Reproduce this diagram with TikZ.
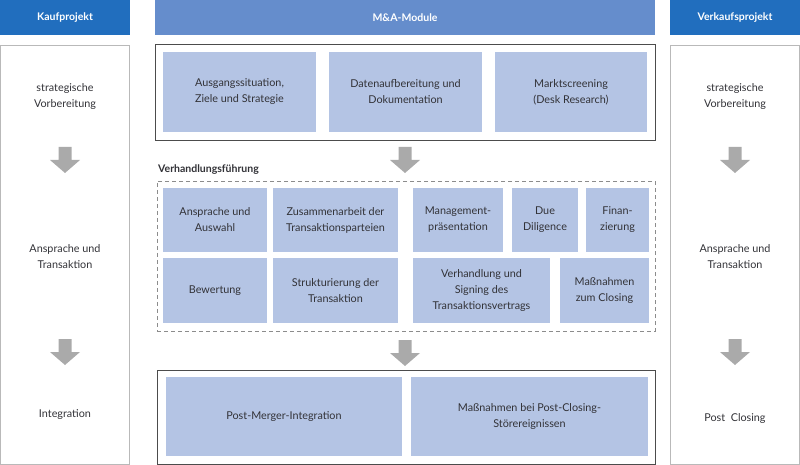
\documentclass[tikz,border=0pt]{standalone}
\usepackage{fontspec}
\setmainfont{Lato}
\usepackage{tikz}

\definecolor{kaufblau}{RGB}{33,110,190}
\definecolor{modulblau}{RGB}{101,141,204}
\definecolor{feldblau}{RGB}{180,196,228}
\definecolor{pfeilgrau}{RGB}{170,170,170}
\definecolor{textgrau}{RGB}{50,50,55}
\definecolor{randgrau}{RGB}{185,185,185}

% block arrow: x of centre, y of top
\newcommand{\pfeil}[2]{%
  \fill [pfeilgrau] (#1-6.5,#2) -- (#1+6.5,#2) -- (#1+6.5,#2-13) -- (#1+15,#2-13)
    -- (#1,#2-26) -- (#1-15,#2-13) -- (#1-6.5,#2-13) -- cycle;}

\begin{document}
\begin{tikzpicture}[x=1pt,y=1pt]
      \tikzstyle{every node}+=[inner sep=0pt, font=\fontsize{10.8}{16}\selectfont, text=textgrau]
      \tikzstyle{kopf}=[fill=kaufblau, text=white, font=\fontsize{10.5}{12}\selectfont\bfseries, minimum height=35]
      \tikzstyle{spalte}=[draw=randgrau, line width=0.8, minimum width=129, minimum height=419]
      \tikzstyle{feld}=[fill=feldblau, align=center]
      \tikzstyle{rahmen}=[draw=black!70, line width=0.8]
      \useasboundingbox (0,0) rectangle (800,-465);
      % headers
      \node [kopf, minimum width=130] (kauf) at (65,-17.5) {Kaufprojekt};
      \node [kopf, fill=modulblau, minimum width=500] (modul) at (405,-17.5) {M\&A-Module};
      \node [kopf, minimum width=130] (verkauf) at (735,-17.5) {Verkaufsprojekt};
      % side columns
      \node [spalte] (kaufspalte) at (65,-254.75) {};
      \node [spalte] (verkaufspalte) at (735,-254.75) {};
      \node [align=center] (kauf1) at (65,-97) {strategische\\Vorbereitung};
      \node [align=center] (kauf2) at (65,-257) {Ansprache und\\Transaktion};
      \node (kauf3) at (65,-415) {Integration};
      \node [align=center] (verkauf1) at (735,-97) {strategische\\Vorbereitung};
      \node [align=center] (verkauf2) at (735,-257) {Ansprache und\\Transaktion};
      \node (verkauf3) at (735,-419) {Post\ \ Closing};
      \pfeil{65}{-147}
      \pfeil{65}{-339}
      \pfeil{735}{-147}
      \pfeil{735}{-339}
      % first module group
      \node [rahmen, minimum width=500, minimum height=96] (start) at (405,-92) {};
      \node [feld, minimum width=153, minimum height=80] (ausgang) at (239.5,-92) {Ausgangssituation,\\Ziele und Strategie};
      \node [feld, minimum width=153, minimum height=80] (daten) at (405.5,-92) {Datenaufbereitung und\\Dokumentation};
      \node [feld, minimum width=152, minimum height=80] (markt) at (571,-92) {Marktscreening\\(Desk Research)};
      \pfeil{405}{-147}
      % negotiation
      \node [anchor=west, font=\fontsize{10.5}{12}\selectfont\bfseries] (verhandlung) at (158,-170) {Verhandlungsführung};
      \node [draw=black!45, dash pattern=on 4pt off 3pt, line width=0.8, minimum width=498, minimum height=150] (mitte) at (406,-256) {};
      \node [feld, minimum width=104, minimum height=64] (ansprache) at (215,-220) {Ansprache und\\Auswahl};
      \node [feld, minimum width=125, minimum height=64] (zusammen) at (335.5,-220) {Zusammenarbeit der\\Transaktionsparteien};
      \node [feld, minimum width=90, minimum height=64] (management) at (458,-220) {Management-\\präsentation};
      \node [feld, minimum width=66, minimum height=64] (due) at (545,-220) {Due\\Diligence};
      \node [feld, minimum width=63, minimum height=64] (finanz) at (617.5,-220) {Finan-\\zierung};
      \node [feld, minimum width=104, minimum height=65] (bewertung) at (215,-290.5) {Bewertung};
      \node [feld, minimum width=125, minimum height=65] (struktur) at (335.5,-290.5) {Strukturierung der\\Transaktion};
      \node [feld, minimum width=137, minimum height=65] (signing) at (481.5,-290.5) {Verhandlung und\\Signing des\\Transaktionsvertrags};
      \node [feld, minimum width=89, minimum height=65] (closing) at (604.5,-290.5) {Maßnahmen\\zum Closing};
      \pfeil{405}{-340}
      % after closing
      \node [rahmen, minimum width=498, minimum height=94] (ende) at (406,-417) {};
      \node [feld, minimum width=236, minimum height=79] (pmi) at (284,-416.5) {Post-Merger-Integration};
      \node [feld, minimum width=237, minimum height=79] (stoerung) at (529.5,-416.5) {Maßnahmen bei Post-Closing-\\Störereignissen};
    \end{tikzpicture}
\end{document}
